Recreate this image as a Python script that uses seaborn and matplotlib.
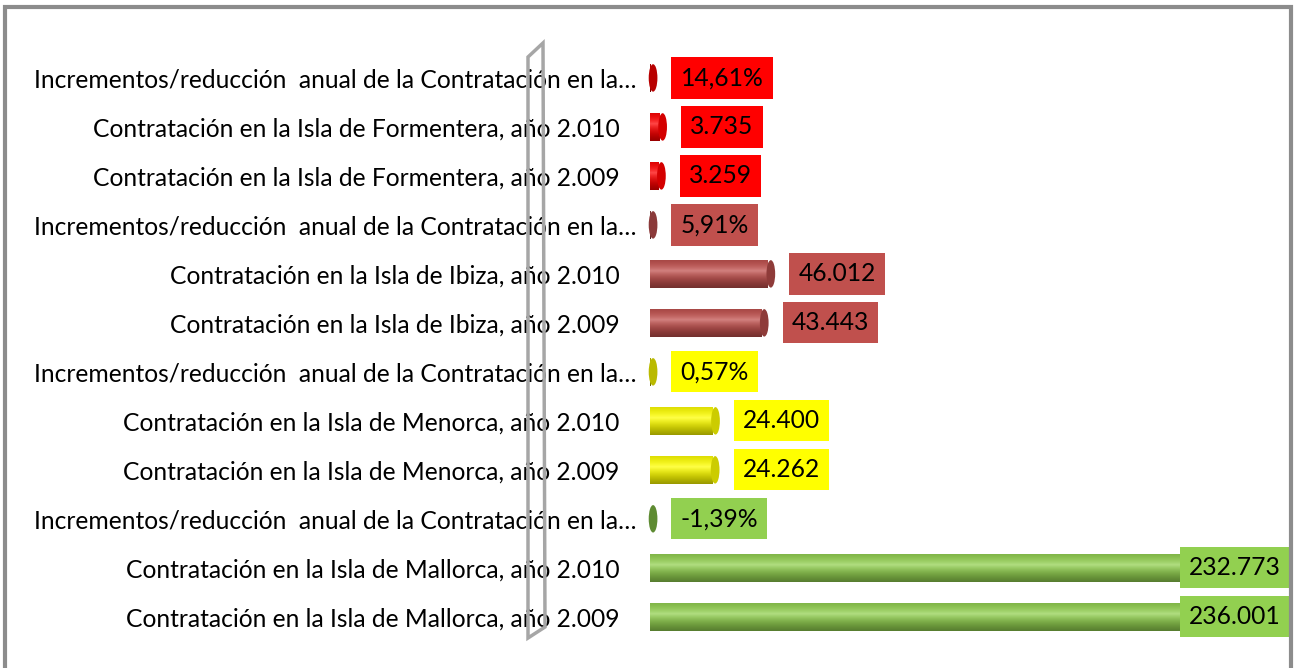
import numpy as np
import pandas as pd
import seaborn as sns
import matplotlib
matplotlib.use('Agg')  # no display, write straight to file
import matplotlib.pyplot as plt
import matplotlib.colors as mcolors
import matplotlib.transforms as mtransforms
from matplotlib.patches import Ellipse, Polygon, Rectangle

# rows from top to bottom, as in the chart
categories = [
    'Incrementos/reducción  anual de la Contratación en la…',
    'Contratación en la Isla de Formentera, año 2.010',
    'Contratación en la Isla de Formentera, año 2.009',
    'Incrementos/reducción  anual de la Contratación en la…',
    'Contratación en la Isla de Ibiza, año 2.010',
    'Contratación en la Isla de Ibiza, año 2.009',
    'Incrementos/reducción  anual de la Contratación en la…',
    'Contratación en la Isla de Menorca, año 2.010',
    'Contratación en la Isla de Menorca, año 2.009',
    'Incrementos/reducción  anual de la Contratación en la…',
    'Contratación en la Isla de Mallorca, año 2.010',
    'Contratación en la Isla de Mallorca, año 2.009',
]
is_pct = [True, False, False, True, False, False, True, False, False, True, False, False]
values = [0.1461, 3735, 3259, 0.0591, 46012, 43443, 0.0057, 24400, 24262, -0.0139, 232773, 236001]
value_labels = ['14,61%', '3.735', '3.259', '5,91%', '46.012', '43.443',
                '0,57%', '24.400', '24.262', '-1,39%', '232.773', '236.001']
bar_colors = ['#B80000', '#FF0000', '#FF0000', '#8B3A3A', '#C0504D', '#C0504D',
              '#BABA00', '#FFFF00', '#FFFF00', '#5E8B32', '#92D050', '#92D050']
cap_colors = ['#B80000', '#D40000', '#D40000', '#8B3A3A', '#8E3B39', '#8E3B39',
              '#BABA00', '#CCCC00', '#CCCC00', '#5E8B32', '#6E9E3C', '#6E9E3C']
box_colors = ['#FF0000', '#FF0000', '#FF0000', '#C0504D', '#C0504D', '#C0504D',
              '#FFFF00', '#FFFF00', '#FFFF00', '#92D050', '#92D050', '#92D050']

keys = [f'r{i}' for i in range(len(categories))]
df = pd.DataFrame({'key': keys, 'val': values})

sns.set_theme(style='white')
plt.rcParams['font.family'] = ['Lato', 'DejaVu Sans']
FS = 17.75

fig = plt.figure(figsize=(12.99, 6.68), dpi=100)
ax = fig.add_axes([0.5004, 0.040, 0.4886, 0.880])

sns.barplot(data=df, x='val', y='key', hue='key', palette=bar_colors,
            orient='h', width=0.56, legend=False, ax=ax, saturation=1)

xmax = 248000

# cylinder look: vertical shading clipped to each bar
for patch in list(ax.patches):
    x0, y0 = patch.get_x(), patch.get_y()
    w, h = patch.get_width(), patch.get_height()
    if w <= 0:
        continue
    row = int(round(y0 + h / 2))
    base = np.array(mcolors.to_rgb(bar_colors[row]))
    t = np.linspace(0, 1, 64)
    light = np.clip(1 - np.abs(t - 0.38) / 0.62, 0, 1)
    shade = np.where(t < 0.38, 0.78 + 0.22 * light, 0.6 + 0.4 * light)
    rows = base[None, :] * shade[:, None]
    rows = rows + (1 - rows) * (0.28 * light[:, None] ** 3)
    img = np.clip(rows, 0, 1)[:, None, :]
    im = ax.imshow(img, extent=(x0, x0 + w, y0 + h, y0), aspect='auto',
                   interpolation='bilinear', zorder=2)
    im.set_clip_path(patch)
    patch.set_zorder(1)

ax.set_xlim(0, xmax)
ax.set_ylim(len(categories) - 0.5, -0.5)

cap_w = 3400
for i, v in enumerate(values):
    end = max(v, 0)
    ax.add_patch(Ellipse((end + cap_w * 0.35, i), cap_w, 0.56, facecolor=cap_colors[i],
                         edgecolor='none', zorder=3, clip_on=False))
    if v > 0.9 * xmax:
        ax.annotate(value_labels[i], (xmax, i), xytext=(-3, 0),
                    textcoords='offset points', ha='right', va='center',
                    fontsize=FS, color='black', zorder=5,
                    bbox=dict(boxstyle='square,pad=0.37', fc=box_colors[i], ec='none'))
    else:
        ax.annotate(value_labels[i], (end, i), xytext=(22, 0),
                    textcoords='offset points', ha='left', va='center',
                    fontsize=FS, color='black', zorder=5,
                    bbox=dict(boxstyle='square,pad=0.37', fc=box_colors[i], ec='none'))

ax.set_xlabel('')
ax.set_ylabel('')
ax.set_xticks([])
ax.set_yticks(range(len(categories)))
ax.set_yticklabels(categories)
ax.tick_params(axis='y', length=0, pad=22, labelsize=FS, labelcolor='black')
# the long truncated labels sit a little further right
shift = mtransforms.ScaledTranslation(17 / 100, 0, fig.dpi_scale_trans)
for lab, p in zip(ax.get_yticklabels(), is_pct):
    if p:
        lab.set_transform(lab.get_transform() + shift)
for s in ax.spines.values():
    s.set_visible(False)

# 3D back wall outline
W, H = 1299, 668
wall = [(528, 57), (543, 43), (545, 627), (528, 638)]
fig.add_artist(Polygon([(x / W, 1 - y / H) for x, y in wall], closed=True,
                       fill=False, edgecolor='#A6A6A6', lw=2.5,
                       transform=fig.transFigure))

# chart area border
fig.add_artist(Rectangle((5 / W, -0.02), 1286 / W, 1 - 7 / H + 0.02,
                         fill=False, edgecolor='#8C8C8C', lw=3,
                         transform=fig.transFigure))

fig.savefig('out.png', dpi=100)
